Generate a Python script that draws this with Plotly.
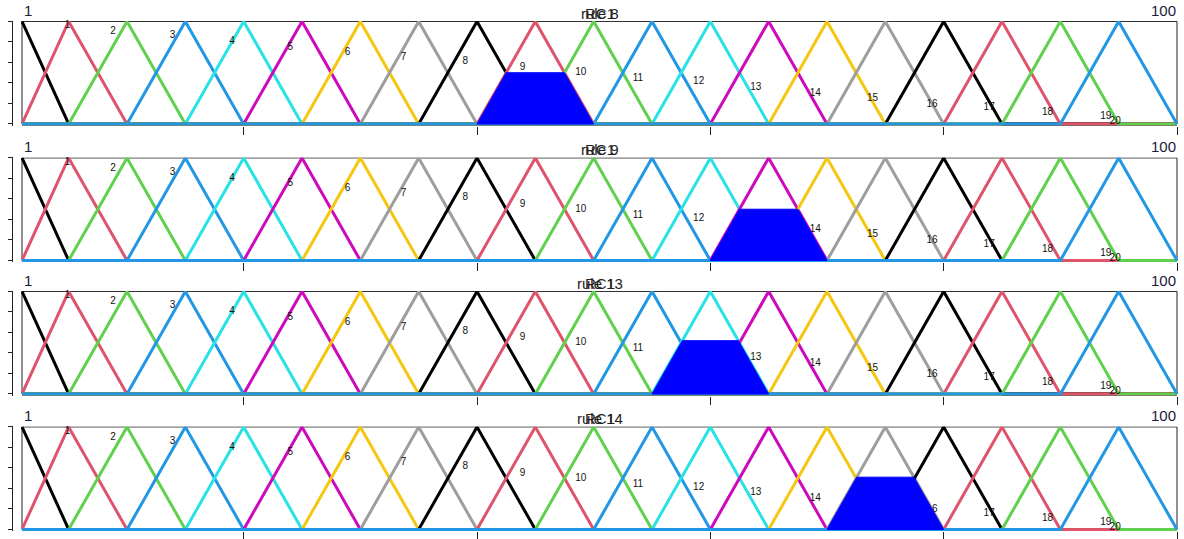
import plotly.graph_objects as go

# Universe of discourse for the output variable
x_min, x_max = 1, 100

# Triangular membership functions (left, peak, right) for the 20 fuzzy terms
mf_left = [1, 1, 5, 10, 15, 20, 25, 30, 35, 40, 45, 50, 55, 60, 65, 70, 75, 80, 85, 90]
mf_peak = [1, 5, 10, 15, 20, 25, 30, 35, 40, 45, 50, 55, 60, 65, 70, 75, 80, 85, 90, 95]
mf_right = [5, 10, 15, 20, 25, 30, 35, 40, 45, 50, 55, 60, 65, 70, 75, 80, 85, 90, 95, 100]

# Term labels and where they are written
term_labels = [str(i) for i in range(1, 21)]
label_x = [4.9, 8.8, 13.9, 19.0, 24.0, 28.9, 33.7, 39.0, 43.9, 48.9,
           53.8, 59.0, 63.9, 69.0, 73.9, 79.0, 83.9, 88.9, 93.9, 94.7]
label_y = [0.96, 0.90, 0.86, 0.80, 0.75, 0.70, 0.65, 0.61, 0.55, 0.50,
           0.44, 0.41, 0.36, 0.30, 0.25, 0.19, 0.16, 0.11, 0.07, 0.02]

# Rules shown, the consequent term each one fires, and its firing degree
rule_names = ["rule 8", "rule 9", "rule 13", "rule 14"]
rule_term = [10, 14, 13, 16]
rule_degree = [0.50, 0.50, 0.52, 0.51]
var_name = "RC1"

palette = ["#000000", "#DF536B", "#61D04F", "#2297E6",
           "#28E2E5", "#CD0BBC", "#F5C710", "#9E9E9E"]

W, H = 1184, 539
panel_top_px = [21, 158, 292, 428]
panel_h_px = 105
x_px0, x_px1 = 20.83, 1178.17
font_family = "Liberation Sans, Arial, sans-serif"
ink = "#222222"


def mf_curve(a, b, c):
    """Polyline of a triangular term over the whole universe."""
    xs, ys = [], []
    if a > x_min:
        xs.append(x_min)
        ys.append(0)
    if a < b:
        xs.append(a)
        ys.append(0)
    xs.append(b)
    ys.append(1)
    xs.append(c)
    ys.append(0)
    if c < x_max:
        xs.append(x_max)
        ys.append(0)
    return xs, ys


fig = go.Figure()
layout = dict(
    width=W, height=H,
    margin=dict(l=0, r=0, t=0, b=0),
    paper_bgcolor="white", plot_bgcolor="white",
    showlegend=False,
    annotations=[], shapes=[],
)

for p in range(4):
    n = "" if p == 0 else str(p + 1)
    xa, ya = "x" + n, "y" + n
    top = panel_top_px[p]
    y_dom = [1 - (top + panel_h_px) / H, 1 - top / H]

    layout["xaxis" + n] = dict(
        domain=[x_px0 / W, x_px1 / W], range=[0.9, 100.1], anchor=ya,
        showgrid=False, zeroline=False, showline=False,
        ticks="outside", ticklen=8, tickcolor=ink, tickwidth=1,
        tickvals=[20, 40, 60, 80, 100], showticklabels=False,
    )
    layout["yaxis" + n] = dict(
        domain=y_dom, range=[-0.015, 1.005], anchor="free", position=12 / W,
        showgrid=False, zeroline=False, showline=True, linecolor=ink, linewidth=1,
        ticks="outside", ticklen=4, tickcolor=ink, tickwidth=1,
        tickvals=[0, 0.2, 0.4, 0.6, 0.8, 1.0], showticklabels=False,
    )

    # plot frame
    layout["shapes"].append(dict(
        type="rect", xref=xa, yref=ya, x0=x_min, x1=x_max, y0=0, y1=1,
        line=dict(color=ink, width=1), fillcolor="rgba(0,0,0,0)", layer="below",
    ))

    # membership functions
    for k in range(20):
        xs, ys = mf_curve(mf_left[k], mf_peak[k], mf_right[k])
        fig.add_trace(go.Scatter(
            x=xs, y=ys, mode="lines", xaxis=xa, yaxis=ya,
            line=dict(color=palette[k % 8], width=3), hoverinfo="skip",
        ))

    # term labels
    fig.add_trace(go.Scatter(
        x=label_x, y=label_y, text=term_labels, mode="text", xaxis=xa, yaxis=ya,
        textfont=dict(family=font_family, size=10, color="#111111"),
        textposition="middle center", cliponaxis=False, hoverinfo="skip",
    ))

    # clipped consequent of the rule
    t = rule_term[p] - 1
    d = rule_degree[p]
    a, b, c = mf_left[t], mf_peak[t], mf_right[t]
    fx = [a, a + (b - a) * d, c - (c - b) * d, c, a]
    fy = [0, d, d, 0, 0]
    fig.add_trace(go.Scatter(
        x=fx, y=fy, mode="lines", fill="toself", fillcolor="#0000FF",
        line=dict(color="#0000FF", width=1), xaxis=xa, yaxis=ya, hoverinfo="skip",
    ))

    # titles (rule name over variable name) and range labels
    cx = (22 + 1177) / 2 / W
    for txt in (rule_names[p], var_name):
        layout["annotations"].append(dict(
            text=txt, x=cx, y=y_dom[1], xref="paper", yref="paper",
            xanchor="center", yanchor="bottom", yshift=-3, showarrow=False,
            font=dict(family=font_family, size=15, color=ink),
        ))
    layout["annotations"].append(dict(
        text=str(x_min), x=22 / W, y=y_dom[1], xref="paper", yref="paper",
        xanchor="left", yanchor="bottom", yshift=0, showarrow=False,
        font=dict(family=font_family, size=15, color="#1b1b3a"),
    ))
    layout["annotations"].append(dict(
        text=str(x_max), x=1178 / W, y=y_dom[1], xref="paper", yref="paper",
        xanchor="right", yanchor="bottom", yshift=0, showarrow=False,
        font=dict(family=font_family, size=15, color="#1b1b3a"),
    ))

fig.update_layout(**layout)
fig.write_html("out.html")
